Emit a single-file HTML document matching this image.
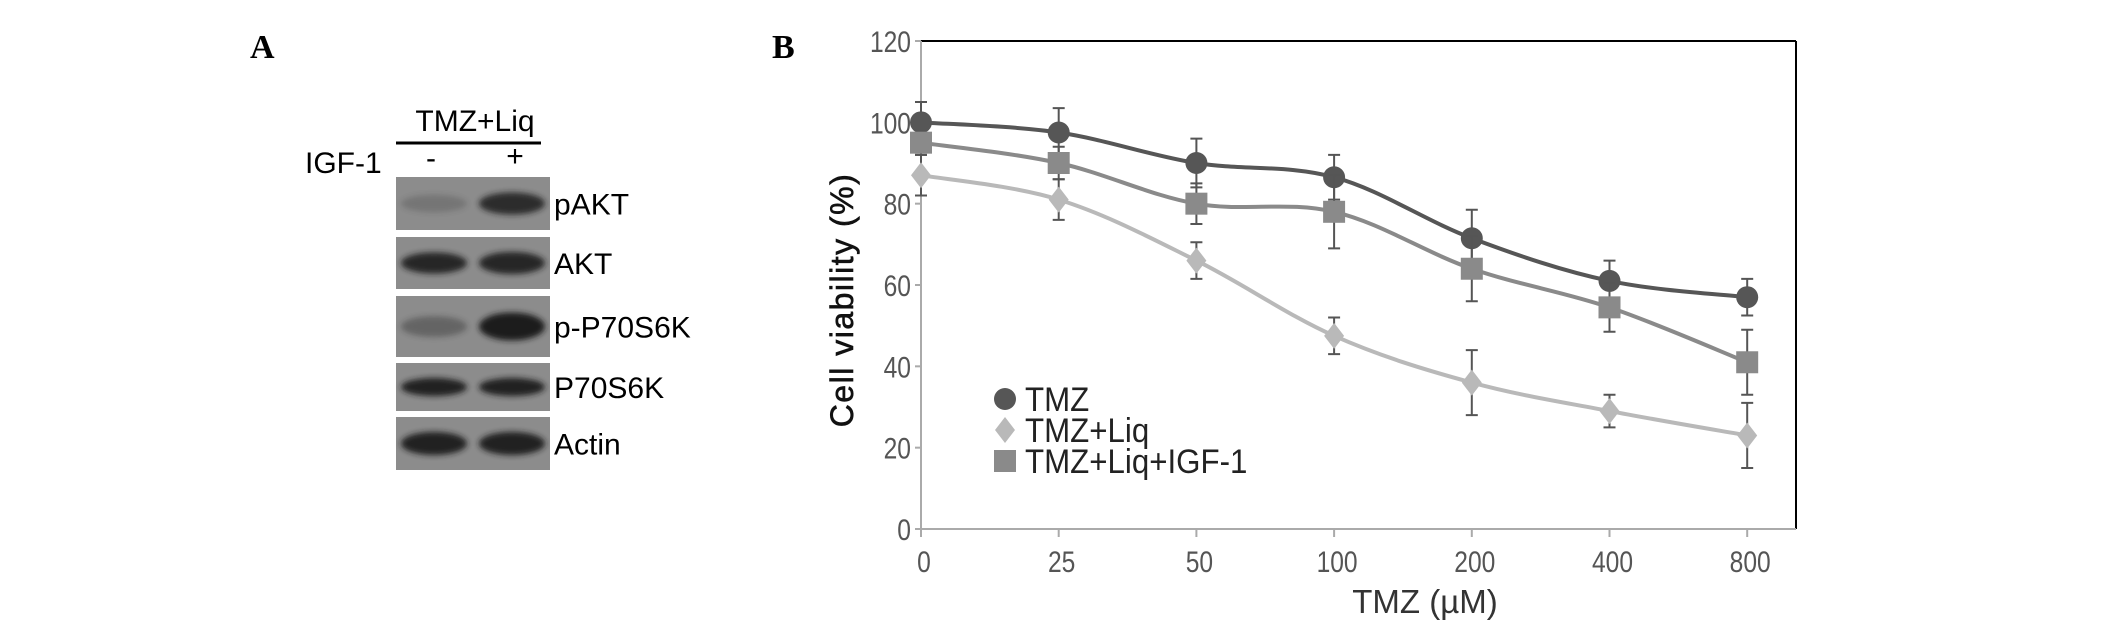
<!DOCTYPE html>
<html><head><meta charset="utf-8"><style>
body{margin:0;background:#fff;}
svg{display:block;font-family:"Liberation Sans",sans-serif;}
</style></head><body>
<svg width="2126" height="629" viewBox="0 0 2126 629">
<defs>
<filter id="blur" x="-20%" y="-50%" width="140%" height="200%"><feGaussianBlur stdDeviation="3"/></filter>
</defs>
<text x="250" y="58" font-family="Liberation Serif" font-weight="bold" font-size="34">A</text>
<text x="772" y="58" font-family="Liberation Serif" font-weight="bold" font-size="34">B</text>
<g>
<text x="475" y="131" text-anchor="middle" font-size="30">TMZ+Liq</text>
<line x1="396" y1="143" x2="541" y2="143" stroke="#000" stroke-width="3"/>
<text x="305" y="173" font-size="30">IGF-1</text>
<text x="431" y="168" text-anchor="middle" font-size="30">-</text>
<text x="515" y="166" text-anchor="middle" font-size="30">+</text>
<g id="blots"></g>
</g>
<g id="chart"></g>
</svg>
<script>
const NS="http://www.w3.org/2000/svg";
function mk(tag,attrs,parent){const e=document.createElementNS(NS,tag);for(const k in attrs)e.setAttribute(k,attrs[k]);parent.appendChild(e);return e;}
const blotNames=["pAKT","AKT","p-P70S6K","P70S6K","Actin"];
const blotTop=[177,237,296,363,417];
const blotBot=[230,289,357,411,470];
const bandA=[[0.2,0.45],[0.9,0.85],[0.35,0.5],[0.95,0.7],[0.95,1.0]];
const bandB=[[0.85,0.9],[0.9,0.95],[1.0,1.1],[0.95,0.7],[0.95,1.0]];
const bg=document.getElementById('blots');
blotNames.forEach((n,i)=>{
  const g=mk('g',{},bg);
  
  
  const t=blotTop[i],b=blotBot[i],cy=(t+b)/2,h=b-t;
  mk('rect',{x:396,y:t,width:154,height:h,fill:'#8c8c8c'},g);
  [[434,bandA[i]],[512,bandB[i]]].forEach(([cx,v])=>{
    mk('ellipse',{cx:cx,cy:cy,rx:33,ry:h*0.2*(0.6+v[1]*0.5),fill:'#1a1a1a',opacity:v[0],filter:'url(#blur)'},g);
  });
  const tx=mk('text',{x:554,y:cy+11,'font-size':30},g);
  tx.textContent=n;
  
  
});
</script>
<script>
const categories=["0","25","50","100","200","400","800"];
const yTicks=[0,20,40,60,80,100,120];
const tmz=[100,97.5,90,86.5,71.5,61,57];
const tmzErr=[5,6,6,5.5,7,5,4.5];
const liq=[87,81,66,47.5,36,29,23];
const liqErr=[5,5,4.5,4.5,8,4,8];
const igf=[95,90,80,78,64,54.5,41];
const igfErr=[3,4,5,9,8,6,8];
const seriesNames=["TMZ","TMZ+Liq","TMZ+Liq+IGF-1"];

const X0=921,STEP=137.7,YB=529,YT=41,XR=1796;
const xS=i=>X0+i*STEP;
const yS=v=>YB-(v/120)*(YB-YT);
const ch=document.getElementById('chart');
let e=mk('line',{x1:X0,y1:YT,x2:XR,y2:YT,stroke:'#000','stroke-width':2},ch);

e=mk('line',{x1:XR,y1:YT,x2:XR,y2:YB,stroke:'#000','stroke-width':2},ch);

e=mk('line',{x1:X0,y1:YT,x2:X0,y2:YB,stroke:'#aaa','stroke-width':2},ch);

e=mk('line',{x1:X0,y1:YB,x2:XR,y2:YB,stroke:'#aaa','stroke-width':2},ch);

yTicks.forEach(v=>{
  mk('line',{x1:X0-6,y1:yS(v),x2:X0,y2:yS(v),stroke:'#aaa','stroke-width':2},ch);
  const t=mk('text',{x:X0-10,y:yS(v)+11,'text-anchor':'end','font-size':30,fill:'#555',transform:`translate(${X0-10},0) scale(0.82,1) translate(${-(X0-10)},0)`},ch);
  t.textContent=v;
  
  
});
categories.forEach((c,i)=>{
  mk('line',{x1:xS(i),y1:YB,x2:xS(i),y2:YB+8,stroke:'#aaa','stroke-width':2},ch);
  const t=mk('text',{x:xS(i)+3,y:572,'text-anchor':'middle','font-size':30,fill:'#555',transform:`translate(${xS(i)+3},0) scale(0.82,1) translate(${-(xS(i)+3)},0)`},ch);
  t.textContent=c;
  
  
});
e=mk('text',{x:1425,y:613,'text-anchor':'middle','font-size':33,fill:'#333'},ch);
e.textContent="TMZ (µM)";

e=mk('text',{x:0,y:0,'text-anchor':'middle','font-size':32,fill:'#111','stroke':'#111','stroke-width':0.6,transform:'translate(853,300) rotate(-90)','letter-spacing':'1.5'},ch);
e.textContent="Cell viability (%)";


function smoothPath(pts){
  let d=`M${pts[0][0]},${pts[0][1]}`;
  for(let i=0;i<pts.length-1;i++){
    const p0=pts[i-1]||pts[i],p1=pts[i],p2=pts[i+1],p3=pts[i+2]||p2;
    const t=0.17;
    d+=` C${p1[0]+(p2[0]-p0[0])*t},${p1[1]+(p2[1]-p0[1])*t} ${p2[0]-(p3[0]-p1[0])*t},${p2[1]-(p3[1]-p1[1])*t} ${p2[0]},${p2[1]}`;
  }
  return d;
}
function marker(shape,x,y,color,parent){
  if(shape==='circle') return mk('circle',{cx:x,cy:y,r:11,fill:color},parent);
  if(shape==='diamond') return mk('polygon',{points:`${x},${y-13} ${x+10},${y} ${x},${y+13} ${x-10},${y}`,fill:color},parent);
  return mk('rect',{x:x-11,y:y-11,width:22,height:22,fill:color},parent);
}
const series=[[tmz,tmzErr,'#565656','circle','tmz'],[igf,igfErr,'#8a8a8a','square','tmz-liq-igf'],[liq,liqErr,'#b9b9b9','diamond','tmz-liq']];
series.forEach(([vals,errs,col,shape,nm])=>{
  const g=mk('g',{},ch);
  
  
  const pts=vals.map((v,i)=>[xS(i),yS(v)]);
  const p=mk('path',{d:smoothPath(pts),fill:'none',stroke:col,'stroke-width':4},g);
  
  vals.forEach((v,i)=>{
    const x=xS(i),y1=yS(v+errs[i]),y2=yS(v-errs[i]);
    const eb=mk('path',{d:`M${x},${y1}V${y2}M${x-6},${y1}H${x+6}M${x-6},${y2}H${x+6}`,stroke:'#555','stroke-width':2,fill:'none'},g);
    
  });
  vals.forEach((v,i)=>{
    const m=marker(shape,xS(i),yS(v),col,g);
    
  });
});
const lg=mk('g',{},ch);

const legShapes=['circle','diamond','square'],legCols=['#565656','#b9b9b9','#8a8a8a'],legY=[399,430,461];
seriesNames.forEach((n,i)=>{
  const g=mk('g',{},lg);
  
  marker(legShapes[i],1005,legY[i],legCols[i],g);
  const t=mk('text',{x:1025,y:legY[i]+12,'font-size':34,fill:'#222',transform:`translate(1025,0) scale(0.92,1) translate(-1025,0)`},g);
  t.textContent=n;
});
</script>
</body></html>
